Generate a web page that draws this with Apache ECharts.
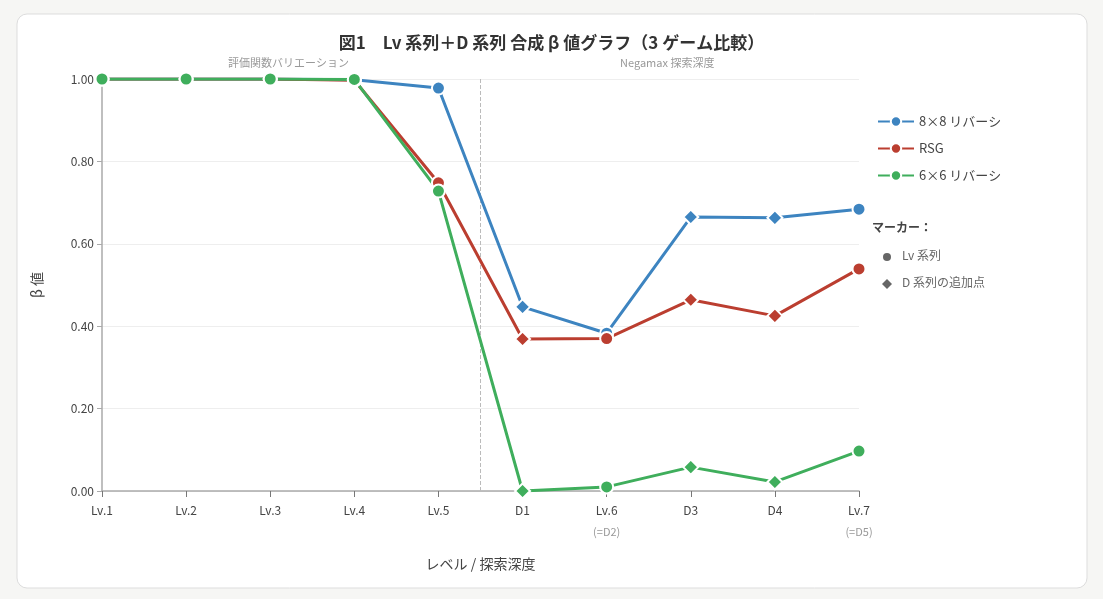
<!DOCTYPE html>
<html><head><meta charset="utf-8">
<script src="https://cdn.jsdelivr.net/npm/echarts@6/dist/echarts.min.js"></script>
<style>html,body{margin:0;background:#f6f6f4}#c{width:1103px;height:599px}</style>
</head><body><div id="c"></div>
<script>
const labels = ['Lv.1','Lv.2','Lv.3','Lv.4','Lv.5','D1','Lv.6','D3','D4','Lv.7'];
const subLabels = ['','','','','','','(=D2)','','','(=D5)'];
const dPoints = [5,7,8]; // D-series added points (diamonds)
const reversi8 = [1.0,1.0,1.0,0.998,0.978,0.447,0.383,0.665,0.663,0.684];
const rsg      = [1.0,1.0,1.0,0.997,0.748,0.369,0.370,0.464,0.425,0.539];
const reversi6 = [1.0,1.0,1.0,0.999,0.728,0.0,0.010,0.058,0.022,0.097];
const xCats = labels.map((l,i)=>subLabels[i]? l+'\n{s|'+subLabels[i]+'}' : l);
function mk(name,color,vals){
  return {name,type:'line',data:vals.map((v,i)=>({value:v,symbol:dPoints.includes(i)?'diamond':'circle',symbolSize:dPoints.includes(i)?15:13})),
    lineStyle:{color,width:3},itemStyle:{color,borderColor:'#fff',borderWidth:2},symbol:'circle',symbolSize:13,z:3};
}
const chart = echarts.init(document.getElementById('c'));
const fam = '"Noto Sans CJK JP","Noto Sans",sans-serif';
chart.setOption({
  backgroundColor:'#f6f6f4',
  textStyle:{fontFamily:fam},
  title:{text:'図1　Lv 系列＋D 系列 合成 β 値グラフ（3 ゲーム比較）',left:'center',top:29,textStyle:{fontSize:17,fontWeight:'bold',color:'#333',fontFamily:fam}},
  graphic:[
    {type:'rect',shape:{x:17,y:14,width:1070,height:574,r:10},style:{fill:'#fff',stroke:'#ddd',lineWidth:1},z:-10},
    {type:'text',left:228,top:57,style:{text:'評価関数バリエーション',fill:'#999',fontSize:11,fontFamily:fam}},
    {type:'text',left:620,top:57,style:{text:'Negamax 探索深度',fill:'#999',fontSize:11,fontFamily:fam}},
    {type:'text',left:872,top:221,style:{text:'マーカー：',fill:'#444',fontSize:12,fontWeight:'bold',fontFamily:fam}},
    {type:'circle',shape:{cx:887,cy:257,r:4},style:{fill:'#666'}},
    {type:'text',left:902,top:249,style:{text:'Lv 系列',fill:'#666',fontSize:12,fontFamily:fam}},
    {type:'polygon',shape:{points:[[887,279],[892,284],[887,289],[882,284]]},style:{fill:'#666'}},
    {type:'text',left:902,top:276,style:{text:'D 系列の追加点',fill:'#666',fontSize:12,fontFamily:fam}}
  ],
  legend:{orient:'vertical',left:872,top:110,itemGap:14,itemWidth:36,itemHeight:13,
    textStyle:{fontSize:13,color:'#444'},
    data:['8×8 リバーシ','RSG','6×6 リバーシ']},
  grid:{left:102,right:244,top:79,bottom:108},
  xAxis:[{type:'category',boundaryGap:false,data:xCats,name:'レベル / 探索深度',nameLocation:'middle',nameGap:66,
    nameTextStyle:{fontSize:14,color:'#444'},
    axisLine:{lineStyle:{color:'#aaa',width:1.5}},axisTick:{lineStyle:{color:'#777'},length:6},
    axisLabel:{color:'#444',fontSize:12,lineHeight:22,rich:{s:{color:'#999',fontSize:11}}}},
    {type:'value',min:0,max:9,show:false}],
  yAxis:{type:'value',min:0,max:1,interval:0.2,name:'β 値',nameLocation:'middle',nameGap:58,nameTextStyle:{fontSize:14,color:'#444'},
    axisLabel:{formatter:v=>v.toFixed(2),color:'#444',fontSize:12},
    axisLine:{show:true,lineStyle:{color:'#aaa',width:1.5}},
    splitLine:{lineStyle:{color:'#eee'}}},
  series:[
    {type:'line',xAxisIndex:1,data:[[4.5,0],[4.5,1.0]],symbol:'none',silent:true,lineStyle:{color:'#bbb',type:'dashed',width:1},z:1},
    mk('8×8 リバーシ','#3d84c0',reversi8),
    mk('RSG','#bb3e30',rsg),
    mk('6×6 リバーシ','#3fae5c',reversi6)
  ]
});
</script></body></html>
